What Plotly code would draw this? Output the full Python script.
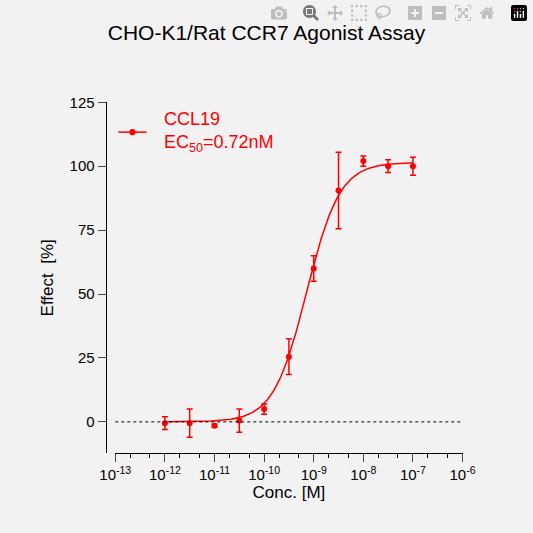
import numpy as np
import plotly.graph_objects as go

conc = [1e-12, 3.16e-12, 1e-11, 3.16e-11, 1e-10, 3.16e-10, 1e-9, 3.16e-9, 1e-8, 3.16e-8, 1e-7]
effect = [-0.5, -0.5, -1.5, 0.5, 5.0, 25.5, 60.0, 90.5, 102.0, 100.0, 100.0]
err = [2.5, 5.5, 0.6, 4.5, 2.0, 7.0, 5.0, 15.0, 2.0, 2.5, 3.5]
ec50 = 0.72e-9
bottom, top, hill = 0.0, 101.5, 1.3
xtick_vals = [1e-13, 1e-12, 1e-11, 1e-10, 1e-9, 1e-8, 1e-7, 1e-6]
xtick_text = ["10<sup>-13</sup>", "10<sup>-12</sup>", "10<sup>-11</sup>", "10<sup>-10</sup>",
              "10<sup>-9</sup>", "10<sup>-8</sup>", "10<sup>-7</sup>", "10<sup>-6</sup>"]
ytick_vals = [0, 25, 50, 75, 100, 125]

red = "#ff0000"
xf = np.logspace(-12, -7, 300)
yf = bottom + (top - bottom) / (1 + (ec50 / xf) ** hill)

fig = go.Figure()
fig.add_trace(go.Scatter(x=xf, y=yf, mode="lines", line=dict(color=red, width=1.5), showlegend=False))
fig.add_trace(go.Scatter(x=conc, y=effect, mode="markers",
                         marker=dict(color=red, size=6),
                         error_y=dict(array=err, color=red, thickness=1.5, width=3),
                         showlegend=False))
fig.add_shape(type="line", xref="paper", yref="y", x0=0.197, x1=0.886, y0=0, y1=0,
              line=dict(color="black", width=1, dash="dot"))
fig.add_shape(type="line", xref="paper", yref="paper", x0=0.203, x1=0.259, y0=0.765, y1=0.765,
              line=dict(color=red, width=1.5))
fig.add_shape(type="circle", xref="paper", yref="paper", x0=0.225, x1=0.237, y0=0.759, y1=0.771,
              fillcolor=red, line=dict(color=red, width=0))
fig.add_annotation(xref="paper", yref="paper", x=0.29, y=0.765, xanchor="left", yanchor="middle",
                   text="CCL19<br>EC<sub>50</sub>=0.72nM", align="left", showarrow=False,
                   font=dict(color=red, size=18, family="Liberation Sans"))

fig.update_layout(
    width=533, height=533, margin=dict(l=0, r=0, t=0, b=0),
    paper_bgcolor="#f2f2f2", plot_bgcolor="#f2f2f2",
    font=dict(family="Liberation Sans", color="black", size=15),
    title=dict(text="CHO-K1/Rat CCR7 Agonist Assay", x=0.5, xanchor="center", y=0.938, yanchor="middle",
               font=dict(size=21)),
    xaxis=dict(type="log", range=[-13, -6], domain=[0.197, 0.886], anchor="y",
               tickvals=xtick_vals, ticktext=xtick_text, ticks="outside", ticklen=8, tickwidth=1.2,
               showline=True, linecolor="black", linewidth=1.2, showgrid=False, zeroline=False,
               minor=dict(ticks="outside", ticklen=4, tickwidth=1, tickcolor="black", showgrid=False),
               title=dict(text="Conc. [M]", standoff=2, font=dict(size=17))),
    yaxis=dict(range=[-12.3, 125], domain=[0.152, 0.822], anchor="free", position=0.178,
               tickvals=ytick_vals, ticks="outside", ticklen=8, tickwidth=1.2,
               showline=True, linecolor="black", linewidth=1.2, showgrid=False, zeroline=False,
               title=dict(text="Effect  [%]", standoff=10, font=dict(size=17))),
)
fig.write_html("out.html", config={"responsive": False},
               post_script="document.body.style.margin='0';document.body.style.padding='0';")
